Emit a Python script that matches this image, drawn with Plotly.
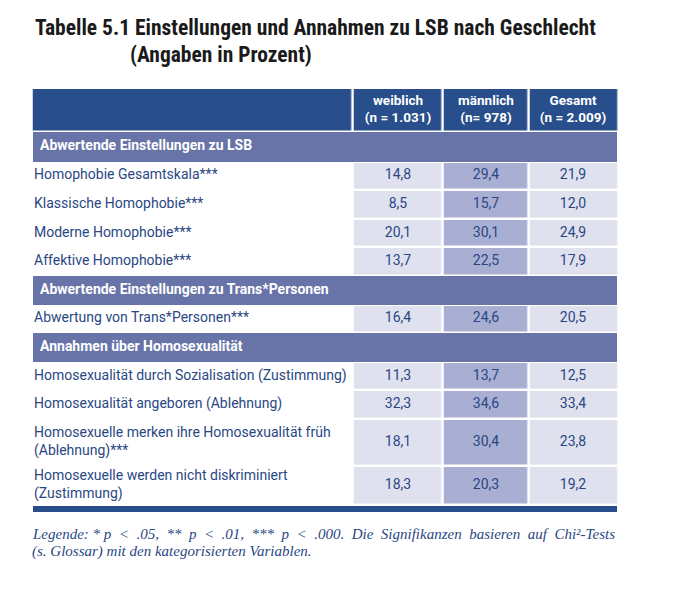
import plotly.graph_objects as go

# ---------------- data ----------------
title_line1 = "Tabelle 5.1 Einstellungen und Annahmen zu LSB nach Geschlecht"
title_line2 = "(Angaben in Prozent)"
header_labels = ["weiblich<br>(n = 1.031)", "männlich<br>(n= 978)", "Gesamt<br>(n = 2.009)"]

row_labels = [
    "Abwertende Einstellungen zu LSB",
    "Homophobie Gesamtskala***",
    "Klassische Homophobie***",
    "Moderne Homophobie***",
    "Affektive Homophobie***",
    "Abwertende Einstellungen zu Trans*Personen",
    "Abwertung von Trans*Personen***",
    "Annahmen über Homosexualität",
    "Homosexualität durch Sozialisation (Zustimmung)",
    "Homosexualität angeboren (Ablehnung)",
    "Homosexuelle merken ihre Homosexualität früh<br>(Ablehnung)***",
    "Homosexuelle werden nicht diskriminiert<br>(Zustimmung)",
]
row_is_section = [True, False, False, False, False, True, False, True, False, False, False, False]
weiblich = [None, 14.8, 8.5, 20.1, 13.7, None, 16.4, None, 11.3, 32.3, 18.1, 18.3]
maennlich = [None, 29.4, 15.7, 30.1, 22.5, None, 24.6, None, 13.7, 34.6, 30.4, 20.3]
gesamt = [None, 21.9, 12.0, 24.9, 17.9, None, 20.5, None, 12.5, 33.4, 23.8, 19.2]

legend_line1 = "Legende: * p < .05, ** p < .01, *** p < .000. Die Signifikanzen basieren auf Chi²-Tests"
legend_line2 = "(s. Glossar) mit den kategorisierten Variablen."

# ---------------- styles / layout ----------------
OX, OY = 8, 8                 # page offset of the plot inside the browser window
W, H = 680 - OX, 592 - OY
DARK = "#284e8b"
SECTION = "#6874a8"
LIGHT = "#e0e1ef"
MID = "#a9aed3"
TEXT = "#2a4783"
FONT = "Roboto, Liberation Sans, sans-serif"
TITLE_FONT = "Liberation Sans Narrow, Roboto Condensed, Roboto, sans-serif"
SERIF = "Liberation Serif, DejaVu Serif, serif"
FS = 14

# table geometry in screen pixels (axis units = pixels)
GAP = 2.5
col_edges = [33, 353, 443, 529, 617]
tbl_top = 88
header_h = 44
row_heights = [29.5, 28.6, 28.6, 28.6, 28.6, 28.6, 28.6, 28.6, 28.6, 28.6, 47.0, 38.6]
spacer_h, bar_h = 1.5, 6
label_pad, section_pad = 1, 7

# y band edges: header, the rows, a spacer and the bottom rule
band_h = [header_h] + row_heights + [spacer_h, bar_h]
y_edges = [tbl_top]
for h in band_h:
    y_edges.append(y_edges[-1] + h)
row_centers = [(a + b) / 2 for a, b in zip(y_edges[1:-3], y_edges[2:-2])]
header_center = (y_edges[0] + y_edges[1]) / 2
x_edges = [col_edges[0] - GAP / 2] + col_edges[1:-1] + [col_edges[-1] + GAP / 2]
col_centers = [(a + b) / 2 for a, b in zip(col_edges[1:-1], col_edges[2:])]

# colour codes: 0 light, 1 mid, 2 dark, 3 section
CODE_COLS = [None, 0, 1, 0]
colorscale = [[0, LIGHT], [1 / 6, LIGHT], [1 / 6, MID], [0.5, MID],
              [0.5, DARK], [5 / 6, DARK], [5 / 6, SECTION], [1, SECTION]]

z_cells = [[2, 2, 2, 2]]
for s in row_is_section:
    z_cells.append([None] * 4 if s else CODE_COLS)
z_cells += [[None] * 4, [None] * 4]

z_full = [[None]] + [[3] if s else [None] for s in row_is_section] + [[None], [2]]


def fmt(v):
    return "" if v is None else f"{v:.1f}".replace(".", ",")


fig = go.Figure()
heat_common = dict(colorscale=colorscale, zmin=0, zmax=3, showscale=False, hoverinfo="skip")
fig.add_trace(go.Heatmap(x=[col_edges[0], col_edges[-1]], y=y_edges, z=z_full, **heat_common))
fig.add_trace(go.Heatmap(x=x_edges, y=y_edges, z=z_cells, xgap=GAP, ygap=GAP, **heat_common))

# header texts
fig.add_trace(go.Scatter(
    x=col_centers, y=[header_center] * len(header_labels),
    text=[f"<b>{h}</b>" for h in header_labels], mode="text", textposition="middle center",
    textfont=dict(family=FONT, size=13.5, color="white"), hoverinfo="skip"))

# row labels
fig.add_trace(go.Scatter(
    x=[col_edges[0] + (section_pad if s else label_pad) for s in row_is_section],
    y=row_centers,
    text=[f"<b>{l}</b>" if s else l for l, s in zip(row_labels, row_is_section)],
    mode="text", textposition="middle right",
    textfont=dict(family=FONT, size=FS, color=["white" if s else TEXT for s in row_is_section]),
    hoverinfo="skip"))

# values
for cx, col in zip(col_centers, (weiblich, maennlich, gesamt)):
    ys = [yc for yc, v in zip(row_centers, col) if v is not None]
    fig.add_trace(go.Scatter(
        x=[cx] * len(ys), y=ys, text=[fmt(v) for v in col if v is not None],
        mode="text", textposition="middle center",
        textfont=dict(family=FONT, size=FS, color=TEXT), hoverinfo="skip"))


def px_x(px):
    return (px - OX) / W


def px_y(py):
    return 1 - (py - OY) / H


words = legend_line1.split(" ")
justified1 = " ".join(words[:2]) + " " + "\u00a0 ".join(words[2:])

annotations = [
    dict(text=f"<b>{title_line1}</b>", x=px_x(33), y=px_y(13), xanchor="left", yanchor="top",
         font=dict(family=TITLE_FONT, size=21.5, color="#1a1a1a")),
    dict(text=f"<b>{title_line2}</b>", x=px_x(128), y=px_y(40), xanchor="left", yanchor="top",
         font=dict(family=TITLE_FONT, size=21.5, color="#1a1a1a")),
    dict(text=f"<i>{justified1}</i>", x=px_x(30), y=px_y(524), xanchor="left", yanchor="top",
         font=dict(family=SERIF, size=15, color=TEXT)),
    dict(text=f"<i>{legend_line2}</i>", x=px_x(30), y=px_y(541), xanchor="left", yanchor="top",
         font=dict(family=SERIF, size=15, color=TEXT)),
]
for a in annotations:
    a.update(xref="paper", yref="paper", showarrow=False, align="left")

axis_common = dict(visible=False, showgrid=False, zeroline=False, fixedrange=True)
fig.update_layout(
    width=W, height=H,
    margin=dict(l=0, r=0, t=0, b=0),
    paper_bgcolor="white", plot_bgcolor="white",
    showlegend=False,
    xaxis=dict(range=[OX, OX + W], **axis_common),
    yaxis=dict(range=[OY + H, OY], **axis_common),
    annotations=annotations,
)

fig.write_html("out.html")
